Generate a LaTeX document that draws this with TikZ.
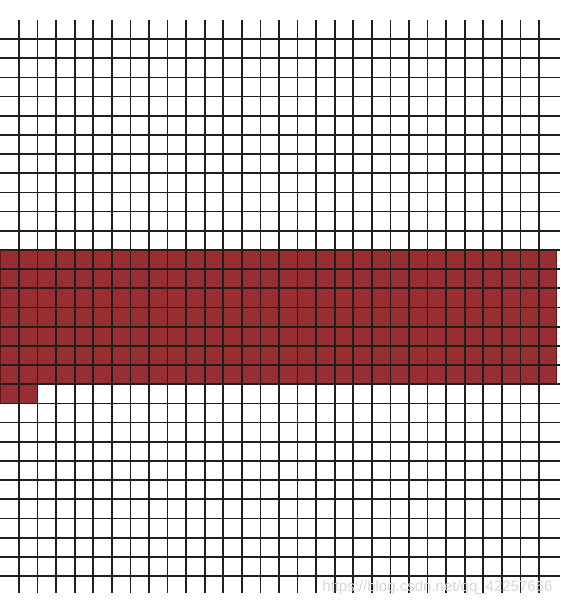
\documentclass[tikz,border=0pt]{standalone}
\usepackage{tikz}
\usepackage{fontspec}
\setsansfont{Liberation Sans}
\usepackage{xcolor}
\definecolor{BrickRed}{RGB}{152,46,50}
\definecolor{EdgeRed}{RGB}{95,25,28}
\definecolor{MarkGray}{RGB}{215,215,215}

\begin{document}
\begin{tikzpicture}[
    x=1pt, y=-1pt,
    gridline/.style={draw=black!88, line width=1.7pt},
    band/.style={fill=BrickRed, draw=EdgeRed, line width=0.8pt},
    watermark/.style={text=MarkGray, font=\sffamily\fontsize{15}{15}\selectfont, anchor=east}
]
    \useasboundingbox (0,0) rectangle (560,608);
    \fill[white] (0,0) rectangle (560,608);

    % red band, with the one extra cell at the left
    \path[band] (0,250) -- (556,250) -- (556,384.3) -- (37.6,384.3)
        -- (37.6,403.5) -- (0,403.5) -- cycle;

    % vertical lines
    \foreach \i in {0,...,28}
        \draw[gridline] ({19+18.57*\i},20) -- ({19+18.57*\i},593);
    % horizontal lines
    \foreach \j in {0,...,28}
        \draw[gridline] (0,{39+19.18*\j}) -- (560,{39+19.18*\j});

    \node[watermark] (mark) at (556,588) {https://blog.csdn.net/qq\_42257666};
\end{tikzpicture}
\end{document}
